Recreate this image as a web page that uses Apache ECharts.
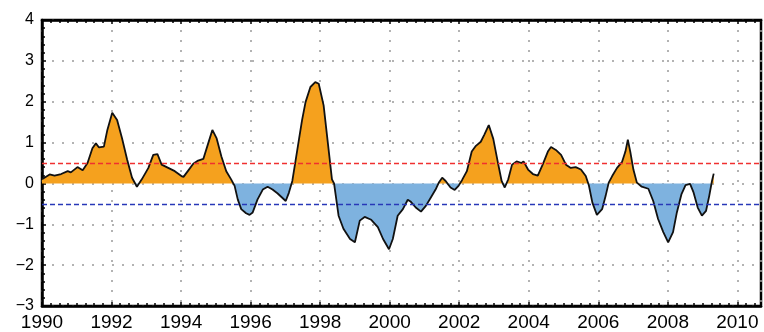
<!DOCTYPE html>
<html>
<head>
<meta charset="utf-8">
<script src="https://cdn.jsdelivr.net/npm/echarts@6/dist/echarts.min.js"></script>
<style>
html,body{margin:0;padding:0;background:#fff;}
#chart{width:764px;height:332px;}
</style>
</head>
<body>
<div id="chart"></div>
<script>
// Decimal year of each reading
var years = [
1990.00,1990.22,1990.36,1990.55,1990.74,1990.83,1991.02,1991.17,1991.31,1991.45,1991.55,1991.64,1991.78,1991.88,
1992.02,1992.16,1992.30,1992.45,1992.59,1992.73,1992.87,1993.06,1993.20,1993.32,1993.44,1993.63,1993.82,1994.01,
1994.07,1994.21,1994.35,1994.49,1994.64,1994.78,1994.90,1995.02,1995.16,1995.30,1995.44,1995.54,1995.63,1995.73,
1995.87,1995.97,1996.06,1996.20,1996.35,1996.49,1996.63,1996.77,1996.91,1997.01,1997.10,1997.20,1997.29,1997.39,
1997.48,1997.58,1997.72,1997.86,1997.96,1998.10,1998.19,1998.34,1998.40,1998.53,1998.67,1998.86,1999.00,1999.14,
1999.28,1999.47,1999.66,1999.81,1999.98,2000.09,2000.23,2000.38,2000.52,2000.61,2000.75,2000.90,2001.04,2001.18,
2001.32,2001.42,2001.51,2001.61,2001.75,2001.87,2001.98,2002.08,2002.22,2002.36,2002.48,2002.62,2002.72,2002.85,
2002.98,2003.12,2003.22,2003.31,2003.41,2003.52,2003.65,2003.79,2003.85,2003.98,2004.12,2004.26,2004.40,2004.55,
2004.64,2004.78,2004.93,2005.07,2005.21,2005.35,2005.50,2005.64,2005.73,2005.83,2005.96,2006.11,2006.21,2006.30,
2006.40,2006.54,2006.68,2006.78,2006.85,2006.92,2007.01,2007.11,2007.25,2007.44,2007.58,2007.72,2007.87,2008.01,
2008.15,2008.26,2008.39,2008.51,2008.64,2008.74,2008.86,2008.98,2009.10,2009.19,2009.27,2009.32
];
// Index value at each reading
var values = [
0.10,0.22,0.19,0.23,0.30,0.27,0.40,0.32,0.50,0.86,0.98,0.88,0.90,1.31,
1.73,1.55,1.11,0.58,0.14,-0.08,0.10,0.38,0.70,0.72,0.46,0.38,0.30,0.18,
0.16,0.32,0.48,0.56,0.60,0.98,1.31,1.11,0.66,0.30,0.10,-0.06,-0.39,-0.63,
-0.73,-0.77,-0.71,-0.39,-0.15,-0.08,-0.15,-0.24,-0.35,-0.43,-0.23,0.06,0.54,1.07,
1.55,1.99,2.36,2.48,2.44,1.91,1.23,0.10,0.00,-0.79,-1.11,-1.36,-1.44,-0.91,
-0.82,-0.89,-1.07,-1.36,-1.61,-1.36,-0.79,-0.63,-0.40,-0.45,-0.59,-0.69,-0.55,-0.35,
-0.15,0.03,0.14,0.06,-0.10,-0.16,-0.06,0.08,0.30,0.78,0.92,1.02,1.19,1.43,
1.09,0.48,0.06,-0.10,0.10,0.46,0.54,0.50,0.54,0.34,0.23,0.19,0.46,0.78,
0.89,0.82,0.70,0.46,0.38,0.40,0.34,0.18,-0.05,-0.47,-0.77,-0.63,-0.31,0.02,
0.18,0.38,0.52,0.78,1.07,0.78,0.34,0.02,-0.08,-0.13,-0.43,-0.87,-1.19,-1.44,
-1.19,-0.71,-0.27,-0.04,-0.01,-0.22,-0.59,-0.79,-0.67,-0.31,0.06,0.24
];
var xTicks = [1990,1992,1994,1996,1998,2000,2002,2004,2006,2008,2010];
var yTicks = [-3,-2,-1,0,1,2,3,4];
var upperThreshold = 0.5;
var lowerThreshold = -0.5;

// Build positive / negative fill series, adding the zero crossings between readings
var lineData = [], posData = [], negData = [];
for (var i = 0; i < years.length; i++) {
  if (i > 0) {
    var y1 = values[i-1], y2 = values[i];
    if ((y1 > 0 && y2 < 0) || (y1 < 0 && y2 > 0)) {
      var xc = years[i-1] + (0 - y1) * (years[i] - years[i-1]) / (y2 - y1);
      posData.push([xc, 0]); negData.push([xc, 0]);
    }
  }
  lineData.push([years[i], values[i]]);
  posData.push([years[i], Math.max(values[i], 0)]);
  negData.push([years[i], Math.min(values[i], 0)]);
}

var X_MIN = 1990, X_MAX = 2010.68, Y_MIN = -3, Y_MAX = 4;
var font = 'Liberation Sans, Arial, sans-serif';
var gridLine = {show:true, lineStyle:{color:'#9a9a9a', type:[2,8], width:1.5}};
var tickStyle = {color:'#000', width:1.5};

var chart = echarts.init(document.getElementById('chart'), null, {renderer:'canvas'});
chart.setOption({
  animation:false,
  backgroundColor:'#fff',
  grid:{left:42, top:20, right:-4, bottom:24, show:true, borderColor:'#000', borderWidth:2.5, backgroundColor:'transparent'},
  xAxis:[
    {type:'value', min:X_MIN, max:X_MAX, interval:2, position:'bottom',
     axisLine:{show:true, onZero:false, lineStyle:{color:'#000', width:2.5}},
     axisTick:{show:true, inside:true, length:4, lineStyle:tickStyle},
     minorTick:{show:true, splitNumber:8, length:3, lineStyle:tickStyle},
     axisLabel:{show:true, color:'#000', fontSize:19, fontFamily:font, margin:7,
       formatter:function(v){ return xTicks.indexOf(v) >= 0 ? String(v) : ''; }},
     splitLine:gridLine},
    {type:'value', min:X_MIN, max:X_MAX, interval:2, position:'top',
     axisLine:{show:true, onZero:false, lineStyle:{color:'#000', width:2.5}},
     axisLabel:{show:false}, splitLine:{show:false},
     axisTick:{show:true, inside:true, length:4, lineStyle:tickStyle},
     minorTick:{show:true, splitNumber:8, length:3, lineStyle:tickStyle}}
  ],
  yAxis:[
    {type:'value', min:Y_MIN, max:Y_MAX, interval:1, position:'left',
     axisLine:{show:true, onZero:false, lineStyle:{color:'#000', width:2.5}},
     axisTick:{show:true, inside:true, length:4, lineStyle:tickStyle},
     minorTick:{show:true, splitNumber:5, length:3, lineStyle:tickStyle},
     axisLabel:{show:true, color:'#000', fontSize:16, fontFamily:font, margin:8,
       formatter:function(v){ return yTicks.indexOf(v) >= 0 ? String(v).replace('-', '\u2212') : ''; }},
     splitLine:gridLine}
  ],
  series:[
    {type:'line', data:posData, showSymbol:false, silent:true, z:2,
     lineStyle:{width:0, opacity:0}, areaStyle:{color:'#F5A11E', opacity:1, origin:0}},
    {type:'line', data:negData, showSymbol:false, silent:true, z:2,
     lineStyle:{width:0, opacity:0}, areaStyle:{color:'#7EB2DF', opacity:1, origin:0}},
    {type:'line', data:lineData, showSymbol:false, silent:true, z:4,
     lineStyle:{color:'#111', width:1.8},
     markLine:{silent:true, symbol:'none', label:{show:false},
       data:[
         {yAxis:upperThreshold, lineStyle:{color:'#F03030', type:[5,3], width:1.4}},
         {yAxis:lowerThreshold, lineStyle:{color:'#2838B8', type:[5,3], width:1.4}}
       ]}
    }
  ]
});
</script>
</body>
</html>
